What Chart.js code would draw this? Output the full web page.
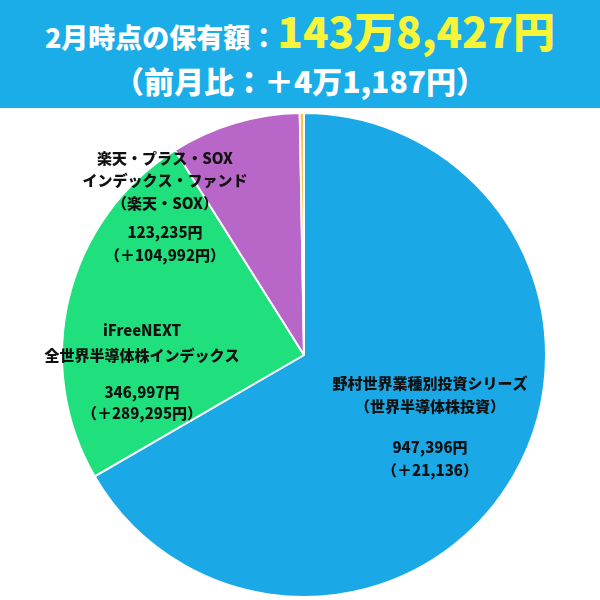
<!DOCTYPE html>
<html><head><meta charset="utf-8">
<script src="https://cdn.jsdelivr.net/npm/chart.js@4"></script>
<style>
body{margin:0;width:600px;height:600px;overflow:hidden;background:#fff;font-family:"Noto Sans CJK JP",sans-serif}
#head{position:absolute;left:0;top:0;width:600px;height:108px;background:#1aade8;color:#fff;font-weight:900;text-align:center}
#l1{position:absolute;top:4px;left:0;width:600px;font-size:27px;line-height:52px}
#l1 b{color:#f7f53a;font-size:42px;font-weight:900}
#l2{position:absolute;top:58px;left:0;width:600px;font-size:30px;line-height:44px}
#wrap{position:absolute;left:4px;top:110px;width:600px;height:490px}
</style></head><body>
<div id="head"><div id="l1">2月時点の保有額：<b>143万8,427円</b></div><div id="l2">（前月比：＋4万1,187円）</div></div>
<div id="wrap"><canvas id="c"></canvas></div>
<script>
const funds = ['野村世界業種別投資シリーズ（世界半導体株投資）', 'iFreeNEXT 全世界半導体株インデックス', '楽天・プラス・SOX インデックス・ファンド（楽天・SOX）', 'その他'];
const amounts = [947396, 346997, 123235, 4000];
const colors = ['#1aa9e6', '#1fe07c', '#b966c9', '#f6c44a'];
const labelLines = [
    [['野村世界業種別投資シリーズ', 0], ['（世界半導体株投資）', 23], ['947,396円', 64], ['（＋21,136）', 87]],
    [['iFreeNEXT', 0], ['全世界半導体株インデックス', 25], ['346,997円', 62], ['（＋289,295円）', 83]],
    [['楽天・プラス・SOX', 0], ['インデックス・ファンド', 22], ['（楽天・SOX）', 45], ['123,235円', 74], ['（＋104,992円）', 97]]
];
const labelAnchor = [[430, 383], [142, 330], [165, 158]];

const labelPlugin = {
    id: 'labels',
    afterDraw(chart) {
        const ctx = chart.ctx;
        const box = chart.canvas.getBoundingClientRect();
        ctx.save();
        ctx.font = '900 15px "Noto Sans CJK JP"';
        ctx.fillStyle = '#111';
        ctx.textAlign = 'center';
        ctx.textBaseline = 'middle';
        labelLines.forEach((lines, i) => {
            const [ax, ay] = labelAnchor[i];
            lines.forEach(([t, dy]) => ctx.fillText(t, ax - box.left, ay + dy - box.top));
        });
        ctx.restore();
    }
};

new Chart(document.getElementById('c'), {
    type: 'pie',
    data: { labels: funds, datasets: [{ data: amounts, backgroundColor: colors, borderColor: '#fff', borderWidth: 2 }] },
    options: {
        responsive: true, maintainAspectRatio: false, animation: false,
        layout: { padding: 2 },
        plugins: { legend: { display: false }, tooltip: { enabled: false } }
    },
    plugins: [labelPlugin]
});
</script></body></html>
